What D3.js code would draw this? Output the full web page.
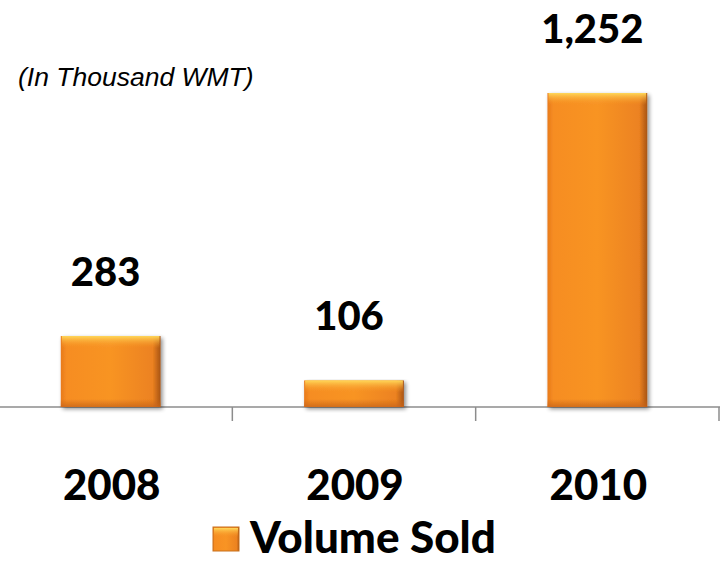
<!DOCTYPE html>
<html>
<head>
<meta charset="utf-8">
<script src="https://cdn.jsdelivr.net/npm/d3@7"></script>
<style>
  body { margin: 0; background: #fff; }
  svg { display: block; }
  .val, .cat, .legend-text { font-family: Lato, "Open Sans", sans-serif; font-weight: 900; fill: #000; }
</style>
</head>
<body>
<div id="chart"></div>
<script>
// Data
const years = ["2008", "2009", "2010"];
const volumes = [283, 106, 1252];
const valueLabels = ["283", "106", "1,252"];
const seriesName = "Volume Sold";
const unitNote = "(In Thousand WMT)";

const W = 721, H = 563;
const baseY = 407;

const svg = d3.select("#chart").append("svg")
    .attr("width", W)
    .attr("height", H);

const defs = svg.append("defs");

// horizontal shading of bar body
const gBody = defs.append("linearGradient").attr("id", "body").attr("x1", 0).attr("x2", 1).attr("y1", 0).attr("y2", 0);
gBody.append("stop").attr("offset", "0%").attr("stop-color", "#e87a1c");
gBody.append("stop").attr("offset", "6%").attr("stop-color", "#f68d22");
gBody.append("stop").attr("offset", "50%").attr("stop-color", "#f89424");
gBody.append("stop").attr("offset", "92%").attr("stop-color", "#ec8220");
gBody.append("stop").attr("offset", "100%").attr("stop-color", "#a85414");

// top bevel highlight
const gTop = defs.append("linearGradient").attr("id", "top").attr("x1", 0).attr("x2", 0).attr("y1", 0).attr("y2", 1);
gTop.append("stop").attr("offset", "0%").attr("stop-color", "#ffd85a").attr("stop-opacity", 1);
gTop.append("stop").attr("offset", "100%").attr("stop-color", "#f89424").attr("stop-opacity", 0);

// bottom darkening
const gBot = defs.append("linearGradient").attr("id", "bot").attr("x1", 0).attr("x2", 0).attr("y1", 0).attr("y2", 1);
gBot.append("stop").attr("offset", "0%").attr("stop-color", "#c8641a").attr("stop-opacity", 0);
gBot.append("stop").attr("offset", "100%").attr("stop-color", "#c8641a").attr("stop-opacity", 0.8);

const shadow = defs.append("filter").attr("id", "shadow").attr("x", "-10%").attr("y", "-10%").attr("width", "130%").attr("height", "130%");
shadow.append("feGaussianBlur").attr("in", "SourceAlpha").attr("stdDeviation", 2);
shadow.append("feOffset").attr("dx", 2).attr("dy", 2).attr("result", "b");
shadow.append("feComponentTransfer").append("feFuncA").attr("type", "linear").attr("slope", 0.45);
const merge = shadow.append("feMerge");
merge.append("feMergeNode");
merge.append("feMergeNode").attr("in", "SourceGraphic");

// Scales
const x = d3.scaleBand()
    .domain(years)
    .range([-11, 719])
    .paddingInner(0.59)
    .paddingOuter(0.295);

const y = d3.scaleLinear()
    .domain([0, 1252])
    .range([baseY, 93]);

// Axis line with ticks at band boundaries
const axis = svg.append("g").attr("transform", `translate(0,${baseY})`);
axis.append("line")
    .attr("x1", 0).attr("x2", 720)
    .attr("stroke", "#8c8c8c").attr("stroke-width", 1.5);
axis.selectAll(".tick")
    .data(years)
    .enter().append("line")
    .attr("x1", (d, i) => x.range()[0] + x.step() * (i + 1))
    .attr("x2", (d, i) => x.range()[0] + x.step() * (i + 1))
    .attr("y1", 0).attr("y2", 14)
    .attr("stroke", "#8c8c8c").attr("stroke-width", 1.5);

// Bars
const bars = svg.selectAll(".bar")
    .data(years)
    .enter().append("g")
    .attr("class", "bar")
    .attr("filter", "url(#shadow)");

bars.append("rect")
    .attr("x", d => x(d))
    .attr("y", (d, i) => y(volumes[i]))
    .attr("width", x.bandwidth())
    .attr("height", (d, i) => baseY - y(volumes[i]))
    .attr("fill", "url(#body)");

bars.append("rect")
    .attr("x", d => x(d) + 1)
    .attr("y", (d, i) => y(volumes[i]))
    .attr("width", x.bandwidth() - 2)
    .attr("height", (d, i) => Math.min(12, (baseY - y(volumes[i])) / 2))
    .attr("fill", "url(#top)");

bars.append("rect")
    .attr("x", d => x(d))
    .attr("y", (d, i) => baseY - Math.min(8, (baseY - y(volumes[i])) / 3))
    .attr("width", x.bandwidth())
    .attr("height", (d, i) => Math.min(8, (baseY - y(volumes[i])) / 3))
    .attr("fill", "url(#bot)");

// Value labels
svg.selectAll(".val")
    .data(years)
    .enter().append("text")
    .attr("class", "val")
    .attr("x", d => x(d) + x.bandwidth() / 2 - 5)
    .attr("y", (d, i) => y(volumes[i]) - 50)
    .attr("text-anchor", "middle")
    .style("font-size", "40px")
    .text((d, i) => valueLabels[i]);

// Category labels
svg.selectAll(".cat")
    .data(years)
    .enter().append("text")
    .attr("class", "cat")
    .attr("x", d => x(d) + x.bandwidth() / 2 + 1)
    .attr("y", 500)
    .attr("text-anchor", "middle")
    .style("font-size", "42px")
    .text(d => d);

// Unit note
svg.append("text")
    .attr("x", 18)
    .attr("y", 86)
    .style("font-family", "Liberation Sans, Arial, sans-serif")
    .style("font-style", "italic")
    .style("font-size", "26.5px")
    .text(unitNote);

// Legend
const legend = svg.append("g").attr("transform", "translate(213,527)");
legend.append("rect")
    .attr("width", 26).attr("height", 24)
    .attr("fill", "url(#body)")
    .attr("stroke", "#c8701c").attr("stroke-width", 1);
legend.append("rect")
    .attr("x", 1).attr("y", 1)
    .attr("width", 24).attr("height", 9)
    .attr("fill", "url(#top)");
legend.append("text")
    .attr("class", "legend-text")
    .attr("x", 37)
    .attr("y", 26)
    .style("font-size", "44px")
    .text(seriesName);
</script>
</body>
</html>
